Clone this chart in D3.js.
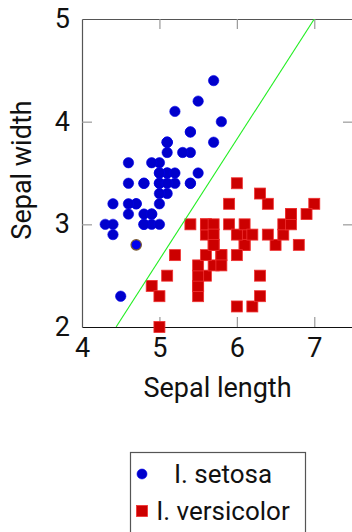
<!DOCTYPE html>
<html>
<head>
<meta charset="utf-8">
<script src="https://cdn.jsdelivr.net/npm/d3@7"></script>
<style>
    body { margin: 0; background: white; }
    text { font-family: Roboto, "DejaVu Sans", sans-serif; }
</style>
</head>
<body>
<main></main>
<script>

/*** Data (sepal length / sepal width) ***/

let setosaLength = [5.1, 4.9, 4.7, 4.6, 5.0, 5.4, 4.6, 5.0, 4.4, 4.9, 5.4, 4.8, 4.8, 4.3, 5.8, 5.7, 5.4, 5.1, 5.7, 5.1,
    5.4, 5.1, 4.6, 5.1, 4.8, 5.0, 5.0, 5.2, 5.2, 4.7, 4.8, 5.4, 5.2, 5.5, 4.9, 5.0, 5.5, 4.9, 4.4, 5.1,
    5.0, 4.5, 4.4, 5.0, 5.1, 4.8, 5.1, 4.6, 5.3, 5.0]
let setosaWidth = [3.5, 3.0, 3.2, 3.1, 3.6, 3.9, 3.4, 3.4, 2.9, 3.1, 3.7, 3.4, 3.0, 3.0, 4.0, 4.4, 3.9, 3.5, 3.8, 3.8,
    3.4, 3.7, 3.6, 3.3, 3.4, 3.0, 3.4, 3.5, 3.4, 3.2, 3.1, 3.4, 4.1, 4.2, 3.1, 3.2, 3.5, 3.6, 3.0, 3.4,
    3.5, 2.3, 3.2, 3.5, 3.8, 3.0, 3.8, 3.2, 3.7, 3.3]

let versicolorLength = [7.0, 6.4, 6.9, 5.5, 6.5, 5.7, 6.3, 4.9, 6.6, 5.2, 5.0, 5.9, 6.0, 6.1, 5.6, 6.7, 5.6, 5.8, 6.2, 5.6,
    5.9, 6.1, 6.3, 6.1, 6.4, 6.6, 6.8, 6.7, 6.0, 5.7, 5.5, 5.5, 5.8, 6.0, 5.4, 6.0, 6.7, 6.3, 5.6, 5.5,
    5.5, 6.1, 5.8, 5.0, 5.6, 5.7, 5.7, 6.2, 5.1, 5.7]
let versicolorWidth = [3.2, 3.2, 3.1, 2.3, 2.8, 2.8, 3.3, 2.4, 2.9, 2.7, 2.0, 3.0, 2.2, 2.9, 2.9, 3.1, 3.0, 2.7, 2.2, 2.5,
    3.2, 2.8, 2.5, 2.8, 2.9, 3.0, 2.8, 3.0, 2.9, 2.6, 2.4, 2.4, 2.7, 2.7, 3.0, 3.4, 3.1, 2.3, 3.0, 2.5,
    2.6, 3.0, 2.6, 2.3, 2.7, 3.0, 2.9, 2.9, 2.5, 2.8]

// the one outlined point
let queryPoint = [4.7, 2.8]

// separating line, end points
let lineX = [4.44, 7.0]
let lineY = [2.0, 5.0]

let xTicks = [4, 5, 6, 7]
let yTicks = [2, 3, 4, 5]
let legendLabels = ["I. setosa", "I. versicolor"]

/*** Sizes ***/

const svgWidth = 352
const svgHeight = 532

const plotLeft = 82
const plotRight = 353
const plotTop = 19
const plotBottom = 327
const tickLen = 10
const fontSize = 27

let svg = d3.select("main")
    .append("svg")
    .attr("width", svgWidth)
    .attr("height", svgHeight)
    .style("display", "block")

/* Scales */

let xScale = d3.scaleLinear()
    .domain([4, 7.5])
    .range([plotLeft, plotRight])

let yScale = d3.scaleLinear()
    .domain([2, 5])
    .range([plotBottom, plotTop])

svg.append("defs")
    .append("clipPath")
    .attr("id", "plotClip")
    .append("rect")
    .attr("x", plotLeft)
    .attr("y", plotTop)
    .attr("width", plotRight - plotLeft)
    .attr("height", plotBottom - plotTop)

/* Axes: inner ticks on all four sides, labels only left & bottom */

function styleAxis(g, frameColor) {
    g.select(".domain").attr("stroke", frameColor).attr("stroke-width", 1.2)
    g.selectAll(".tick line").attr("stroke", "#999").attr("stroke-width", 1.2)
    g.selectAll(".tick text")
        .attr("fill", "#111")
        .style("font-size", fontSize + "px")
        .style("font-family", "Roboto, sans-serif")
}

let bottomAxis = d3.axisBottom(xScale)
    .tickValues(xTicks)
    .tickFormat(d3.format("d"))
    .tickSizeInner(-tickLen)
    .tickSizeOuter(0)
    .tickPadding(11)

let xAxis = svg.append("g")
    .attr("transform", `translate(0, ${plotBottom})`)
    .call(bottomAxis)
xAxis.call(styleAxis, "#111")
xAxis.selectAll(".tick").filter(d => d === 4).select("line").remove()

let topAxis = d3.axisTop(xScale)
    .tickValues(xTicks.filter(d => d > 4))
    .tickFormat("")
    .tickSizeInner(-tickLen)
    .tickSizeOuter(0)

svg.append("g")
    .attr("transform", `translate(0, ${plotTop})`)
    .call(topAxis)
    .call(styleAxis, "#555")

let leftAxis = d3.axisLeft(yScale)
    .tickValues(yTicks)
    .tickFormat(d3.format("d"))
    .tickSizeInner(-tickLen)
    .tickSizeOuter(0)
    .tickPadding(12)

let yAxis = svg.append("g")
    .attr("transform", `translate(${plotLeft}, 0)`)
    .call(leftAxis)
yAxis.call(styleAxis, "#555")
yAxis.selectAll(".tick").filter(d => d === 2 || d === 5).select("line").remove()

let rightAxis = d3.axisRight(yScale)
    .tickValues(yTicks.filter(d => d > 2 && d < 5))
    .tickFormat("")
    .tickSizeInner(-tickLen)
    .tickSizeOuter(0)

svg.append("g")
    .attr("transform", `translate(${plotRight}, 0)`)
    .call(rightAxis)
    .call(styleAxis, "#555")

/* Marks */

let setosa = setosaLength.map((d, i) => ({x: d, y: setosaWidth[i]}))
let versicolor = versicolorLength.map((d, i) => ({x: d, y: versicolorWidth[i]}))

svg.append("g")
    .selectAll("circle")
    .data(setosa)
    .enter()
    .append("circle")
    .attr("cx", d => xScale(d.x))
    .attr("cy", d => yScale(d.y))
    .attr("r", 5.2)
    .attr("fill", "#0000cc")
    .attr("stroke", "#0000e6")
    .attr("stroke-width", 0.6)

const sq = 11

svg.append("g")
    .selectAll("rect")
    .data(versicolor)
    .enter()
    .append("rect")
    .attr("x", d => xScale(d.x) - sq / 2)
    .attr("y", d => yScale(d.y) - sq / 2)
    .attr("width", sq)
    .attr("height", sq)
    .attr("fill", "#cc0000")
    .attr("stroke", "#f03030")
    .attr("stroke-width", 0.8)

// separating line
svg.append("path")
    .datum(lineX.map((d, i) => [d, lineY[i]]))
    .attr("clip-path", "url(#plotClip)")
    .attr("d", d3.line().x(d => xScale(d[0])).y(d => yScale(d[1])))
    .attr("fill", "none")
    .attr("stroke", "#22ee22")
    .attr("stroke-width", 1.1)

svg.append("circle")
    .attr("cx", xScale(queryPoint[0]))
    .attr("cy", yScale(queryPoint[1]))
    .attr("r", 5.2)
    .attr("fill", "#0000ee")
    .attr("stroke", "#7a5a30")
    .attr("stroke-width", 1.2)

/* Axis labels */

svg.append("text")
    .attr("transform", `translate(${(plotLeft + plotRight) / 2}, 397)`)
    .style("text-anchor", "middle")
    .style("font-size", fontSize + "px")
    .attr("fill", "#111")
    .text("Sepal length")

svg.append("text")
    .attr("transform", `translate(31, 170) rotate(-90)`)
    .style("text-anchor", "middle")
    .style("font-size", fontSize + "px")
    .attr("fill", "#111")
    .text("Sepal width")

/* Legend */

let legend = svg.append("g")

legend.append("rect")
    .attr("x", 130.5)
    .attr("y", 452.5)
    .attr("width", 175)
    .attr("height", 100)
    .attr("fill", "white")
    .attr("stroke", "#555")
    .attr("stroke-width", 1.2)

let rowY = d3.scalePoint()
    .domain(legendLabels)
    .range([474, 511])

legend.append("circle")
    .attr("cx", 142)
    .attr("cy", rowY(legendLabels[0]))
    .attr("r", 5)
    .attr("fill", "#0000cc")
    .attr("stroke", "#0000e6")
    .attr("stroke-width", 0.6)

legend.append("rect")
    .attr("x", 142 - 5.5)
    .attr("y", rowY(legendLabels[1]) - 5.5)
    .attr("width", sq)
    .attr("height", sq)
    .attr("fill", "#cc0000")
    .attr("stroke", "#f03030")
    .attr("stroke-width", 0.8)

legend.selectAll("text.entry")
    .data(legendLabels)
    .enter()
    .append("text")
    .attr("class", "entry")
    .attr("x", 223)
    .attr("y", d => rowY(d))
    .attr("dy", "0.36em")
    .style("text-anchor", "middle")
    .style("font-size", "26px")
    .attr("fill", "#111")
    .text(d => d)

</script>
</body>
</html>
